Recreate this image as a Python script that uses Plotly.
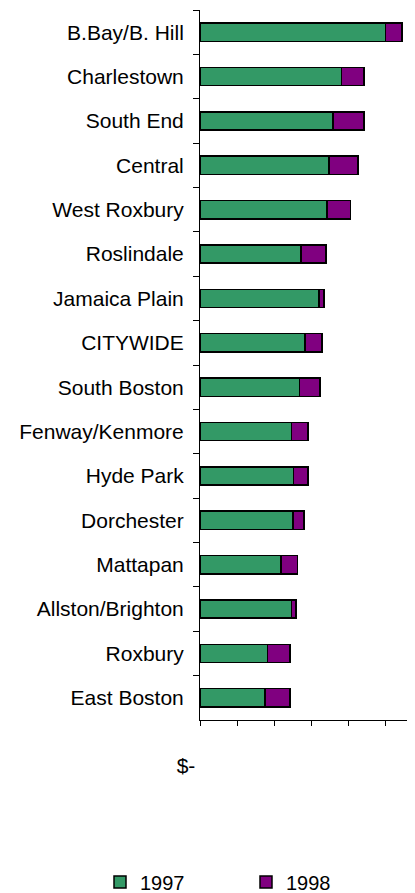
import plotly.graph_objects as go

categories = ["B.Bay/B. Hill", "Charlestown", "South End", "Central", "West Roxbury",
              "Roslindale", "Jamaica Plain", "CITYWIDE", "South Boston", "Fenway/Kenmore",
              "Hyde Park", "Dorchester", "Mattapan", "Allston/Brighton", "Roxbury", "East Boston"]
values_1997 = [250000, 191000, 179700, 174300, 171600, 136500, 160800, 141900, 134200,
               123400, 126100, 125700, 109500, 123400, 91000, 87800]
values_1998 = [22600, 30300, 41500, 38800, 31100, 33400, 6300, 22600, 27600,
               22200, 19500, 14900, 22000, 5900, 30300, 33800]
x_tickvals = [0, 50000, 100000, 150000, 200000, 250000]
x_ticktext = ["$-", "", "", "", "", ""]

font_family = "Liberation Sans, Arial, sans-serif"

# page body has an 8px default margin; figure is sized to fit the 415x893 window
W, H = 407, 885
ML, MR, MT, MB = 192, 0, 2, 173
PW, PH = W - ML - MR, H - MT - MB

fig = go.Figure()
fig.add_trace(go.Bar(y=categories, x=values_1997, orientation="h", name="1997",
                     marker=dict(color="#339966", line=dict(color="#000000", width=1.5))))
fig.add_trace(go.Bar(y=categories, x=values_1998, orientation="h", name="1998",
                     marker=dict(color="#800080", line=dict(color="#000000", width=1.5))))

fig.update_layout(
    barmode="stack",
    bargap=0.59,
    width=W, height=H,
    margin=dict(l=ML, r=MR, t=MT, b=MB, autoexpand=False),
    plot_bgcolor="white", paper_bgcolor="white",
    font=dict(family=font_family, size=21, color="#000000"),
    showlegend=True,
    legend=dict(orientation="h", xref="paper", yref="paper",
                x=(92 - ML) / PW, y=(MT + PH - 874) / PH, xanchor="left", yanchor="middle",
                font=dict(size=20), entrywidth=101, traceorder="normal"),
    hovermode=False,
)
fig.update_yaxes(type="category", categoryorder="array", categoryarray=categories,
                 autorange="reversed", showline=True, linecolor="#000000", linewidth=1,
                 ticks="outside", ticklen=6, tickcolor="#000000", tickwidth=1,
                 tickson="boundaries", showgrid=False, ticklabelstandoff=11,
                 tickfont=dict(size=21), automargin=False)
fig.update_xaxes(range=[0, 290000], showline=True, linecolor="#000000", linewidth=1,
                 ticks="outside", ticklen=5, tickcolor="#000000", tickwidth=1,
                 tickvals=x_tickvals, ticktext=x_ticktext, showgrid=False, zeroline=False,
                 ticklabelstandoff=22, ticklabelshift=-14, tickfont=dict(size=21),
                 automargin=False)

fig.write_html("out.html")
